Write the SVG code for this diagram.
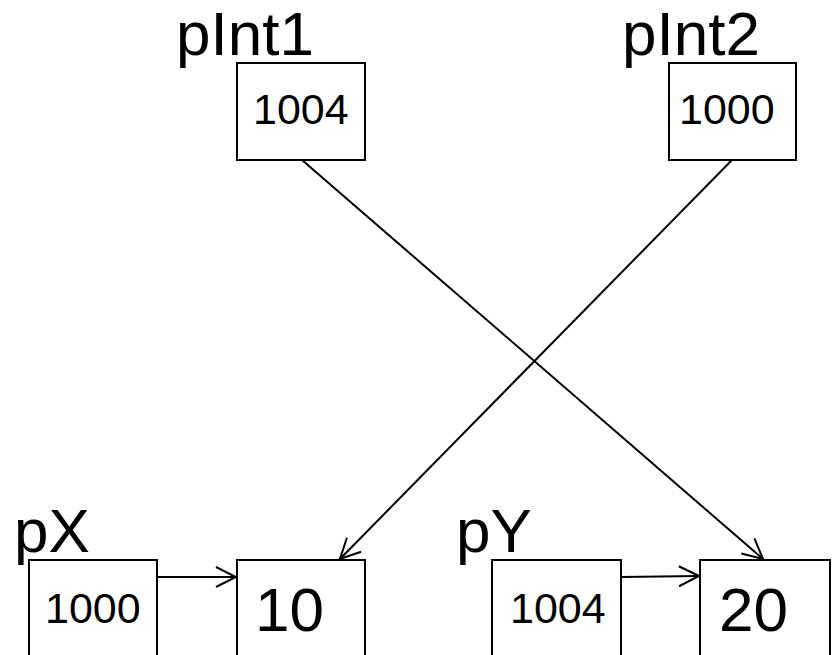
<svg xmlns="http://www.w3.org/2000/svg" width="833" height="655" viewBox="0 0 833 655">
  <style>
    .box { fill: #ffffff; stroke: #000000; stroke-width: 2; }
    .name { font-family: "Liberation Sans", Arial, sans-serif; font-size: 62px; fill: #000000; }
    .addr { font-family: "Liberation Sans", Arial, sans-serif; font-size: 43px; fill: #000000; }
    .val { font-family: "Liberation Sans", Arial, sans-serif; font-size: 62px; fill: #000000; }
    .link { fill: none; stroke: #000000; stroke-width: 2; marker-end: url(#open-arrow); }
  </style>
  <defs>
    <marker id="open-arrow" markerUnits="userSpaceOnUse" markerWidth="24" markerHeight="24" viewBox="-22 -12 24 24" refX="0" refY="0" orient="auto">
      <path d="M-20,-10 L0,0 L-20,10" fill="none" stroke="#000000" stroke-width="2"/>
    </marker>
  </defs>
  <rect width="833" height="655" fill="#ffffff"/>

  <!-- pointer variables -->
  <g id="pInt1">
    <text class="name" x="176" y="55">pInt1</text>
    <rect class="box" x="237" y="63" width="128" height="97"/>
    <text class="addr" x="253" y="124">1004</text>
  </g>
  <g id="pInt2">
    <text class="name" x="622" y="55">pInt2</text>
    <rect class="box" x="669" y="63" width="127" height="97"/>
    <text class="addr" x="679" y="124">1000</text>
  </g>
  <g id="pX">
    <text class="name" x="14" y="552">pX</text>
    <rect class="box" x="29" y="560" width="128" height="110"/>
    <text class="addr" x="45" y="623">1000</text>
  </g>
  <g id="pY">
    <text class="name" x="456" y="552">pY</text>
    <rect class="box" x="492" y="560" width="129" height="110"/>
    <text class="addr" x="510" y="623">1004</text>
  </g>

  <!-- pointed-to integers -->
  <g id="x">
    <rect class="box" x="237" y="560" width="128" height="110"/>
    <text class="val" x="255" y="631">10</text>
  </g>
  <g id="y">
    <rect class="box" x="700" y="560" width="130" height="110"/>
    <text class="val" x="719" y="631">20</text>
  </g>

  <!-- pointer links -->
  <g id="connectors">
    <line class="link" x1="157" y1="577" x2="236" y2="577"/>
    <line class="link" x1="621" y1="577" x2="699" y2="576"/>
    <line class="link" x1="302" y1="160" x2="763" y2="559"/>
    <line class="link" x1="732" y1="160" x2="340" y2="559"/>
  </g>
</svg>
